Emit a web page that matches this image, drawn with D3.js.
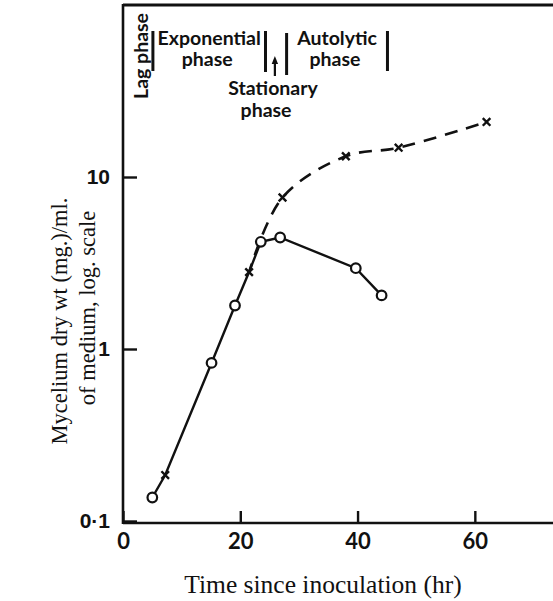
<!DOCTYPE html>
<html>
<head>
<meta charset="utf-8">
<script src="https://cdn.jsdelivr.net/npm/d3@7"></script>
<style>
  body { margin: 0; background: #fff; }
  svg { display: block; }
</style>
</head>
<body>
<div id="chart"></div>
<script>
// open circles: mycelium dry wt (solid line)
var circleHours = [5.0, 15.1, 19.1, 23.5, 26.8, 39.7, 44.1];
var circleWeights = [0.137, 0.83, 1.79, 4.2, 4.45, 2.95, 2.05];
// crosses: second culture (dashed line)
var crossHours = [7.2, 21.5, 27.2, 38.0, 47.0, 62.0];
var crossWeights = [0.185, 2.8, 7.6, 13.2, 14.8, 20.9];

var xTicks = [0, 20, 40, 60];
var yTicks = [0.1, 1, 10];
var yTickLabels = ["0·1", "1", "10"];

// phase boundaries (hr) and the stationary arrow
var phaseBounds = [0, 5.1, 24.3, 27.9, 45.1];
var stationaryArrow = 25.9;
var phaseNames = [["Lag phase"], ["Exponential", "phase"], ["Stationary", "phase"], ["Autolytic", "phase"]];

var circles = circleHours.map((h, i) => ({ t: h, v: circleWeights[i] }));
var crosses = crossHours.map((h, i) => ({ t: h, v: crossWeights[i] }));

let dim = { width: 553, height: 601 };

let svg = d3
  .select("#chart")
  .append("svg")
  .attr("width", dim.width)
  .attr("height", dim.height)
  .style("background", "#fff");

let x = d3.scaleLinear().domain([0, 73.5]).range([123, 554]);
let y = d3.scaleLog().domain([0.1, 100]).range([521, 5]);

let ink = "#111";

// frame: top line
svg.append("line")
  .attr("x1", x(0)).attr("x2", dim.width)
  .attr("y1", y(100)).attr("y2", y(100))
  .attr("stroke", ink).attr("stroke-width", 2.8);

let xAxis = svg.append("g")
  .attr("transform", `translate(0, ${y(0.1) + 2})`)
  .call(d3.axisBottom(x).tickValues(xTicks).tickSizeInner(-12).tickSizeOuter(0).tickPadding(10));

let yAxis = svg.append("g")
  .attr("transform", `translate(${x(0)}, 0)`)
  .call(d3.axisLeft(y).tickValues(yTicks).tickSizeInner(-14).tickSizeOuter(0).tickPadding(13)
    .tickFormat((d, i) => yTickLabels[i]));

[xAxis, yAxis].forEach((ax) => {
  ax.select(".domain").attr("stroke", ink).attr("stroke-width", 2.6);
  ax.selectAll(".tick line").attr("stroke", ink).attr("stroke-width", 2.4);
  ax.selectAll(".tick text").attr("fill", ink);
});
xAxis.select(".domain").attr("d", `M${x(0)},0H${dim.width}`);
yAxis.select(".domain").attr("d", `M0,${y(100) - 1}V${y(0.1) + 3}`);

xAxis.selectAll(".tick text")
  .style("font-family", "Lato, sans-serif")
  .style("font-weight", "bold")
  .style("font-size", "22px");
yAxis.selectAll(".tick text")
  .style("font-family", "'Liberation Sans', Arial, sans-serif")
  .style("font-weight", "bold")
  .style("font-size", "21px");

// axis titles
svg.append("text")
  .attr("x", 323).attr("y", 593)
  .attr("text-anchor", "middle")
  .style("font-family", "'Liberation Serif', 'Times New Roman', serif")
  .style("font-size", "25.5px")
  .attr("fill", ink)
  .text("Time since inoculation (hr)");

let yTitle = svg.append("text")
  .attr("transform", "translate(0, 321) rotate(-90)")
  .attr("text-anchor", "middle")
  .style("font-family", "'Liberation Serif', 'Times New Roman', serif")
  .style("font-size", "22.5px")
  .attr("fill", ink);
yTitle.append("tspan").attr("x", 0).attr("y", 67).text("Mycelium dry wt (mg.)/ml.");
yTitle.append("tspan").attr("x", 13).attr("y", 95).text("of medium, log. scale");

// lines
let line = d3.line().x((d) => x(d.t)).y((d) => y(d.v));

let solidData = circles.concat(crosses.filter((d) => d.t < 22)).sort((a, b) => a.t - b.t);
svg.append("path")
  .datum(solidData)
  .attr("d", line)
  .attr("fill", "none")
  .attr("stroke", ink)
  .attr("stroke-width", 2.4);

svg.append("path")
  .datum(crosses.filter((d) => d.t > 20))
  .attr("d", line.curve(d3.curveCatmullRom.alpha(0.5)))
  .attr("fill", "none")
  .attr("stroke", ink)
  .attr("stroke-width", 2.6)
  .attr("stroke-dasharray", "13,9")
  .attr("stroke-dashoffset", 4);

// markers
svg.selectAll("path.cross")
  .data(crosses)
  .join("path")
  .attr("class", "cross")
  .attr("d", (d) => {
    let cx = x(d.t), cy = y(d.v), s = 3.8;
    return `M${cx - s},${cy - s}L${cx + s},${cy + s}M${cx - s},${cy + s}L${cx + s},${cy - s}`;
  })
  .attr("stroke", ink)
  .attr("stroke-width", 2.4);

svg.selectAll("circle")
  .data(circles)
  .join("circle")
  .attr("cx", (d) => x(d.t))
  .attr("cy", (d) => y(d.v))
  .attr("r", 4.8)
  .attr("fill", "#fff")
  .attr("stroke", ink)
  .attr("stroke-width", 2.2);

// phase annotations at the top
let phaseFont = (sel) => sel
  .style("font-family", "Lato, sans-serif")
  .style("font-weight", "bold")
  .style("font-size", "19.5px")
  .attr("fill", ink)
  .attr("text-anchor", "middle");

phaseBounds.slice(1).forEach((b, i) => {
  let top = i == 2 ? 33 : 31;
  let bottom = i == 1 ? 72 : i == 2 ? 75 : 71;
  svg.append("line")
    .attr("x1", x(b)).attr("x2", x(b))
    .attr("y1", top).attr("y2", bottom)
    .attr("stroke", ink).attr("stroke-width", 3);
});

// arrow pointing up to stationary phase
svg.append("line")
  .attr("x1", x(stationaryArrow)).attr("x2", x(stationaryArrow))
  .attr("y1", 76).attr("y2", 62)
  .attr("stroke", ink).attr("stroke-width", 2.2);
svg.append("path")
  .attr("d", `M${x(stationaryArrow) - 3.2},${64}L${x(stationaryArrow)},${56}L${x(stationaryArrow) + 3.2},${64}Z`)
  .attr("fill", ink);

let mids = phaseBounds.slice(1).map((b, i) => (b + phaseBounds[i]) / 2);

// lag phase is written vertically
svg.append("text")
  .attr("transform", `translate(${x(mids[0]) + 10}, 56) rotate(-90)`)
  .call(phaseFont)
  .text(phaseNames[0][0]);

let rows = [null, [45, 66], [95, 117], [45, 66]];
[1, 2, 3].forEach((k) => {
  let cx = x(mids[k]) + (k == 2 ? -3 : 0);
  phaseNames[k].forEach((s, j) => {
    svg.append("text")
      .attr("x", cx + (j == 1 && k == 2 ? -7 : j == 1 ? -2 : 0))
      .attr("y", rows[k][j])
      .call(phaseFont)
      .text(s);
  });
});
</script>
</body>
</html>
